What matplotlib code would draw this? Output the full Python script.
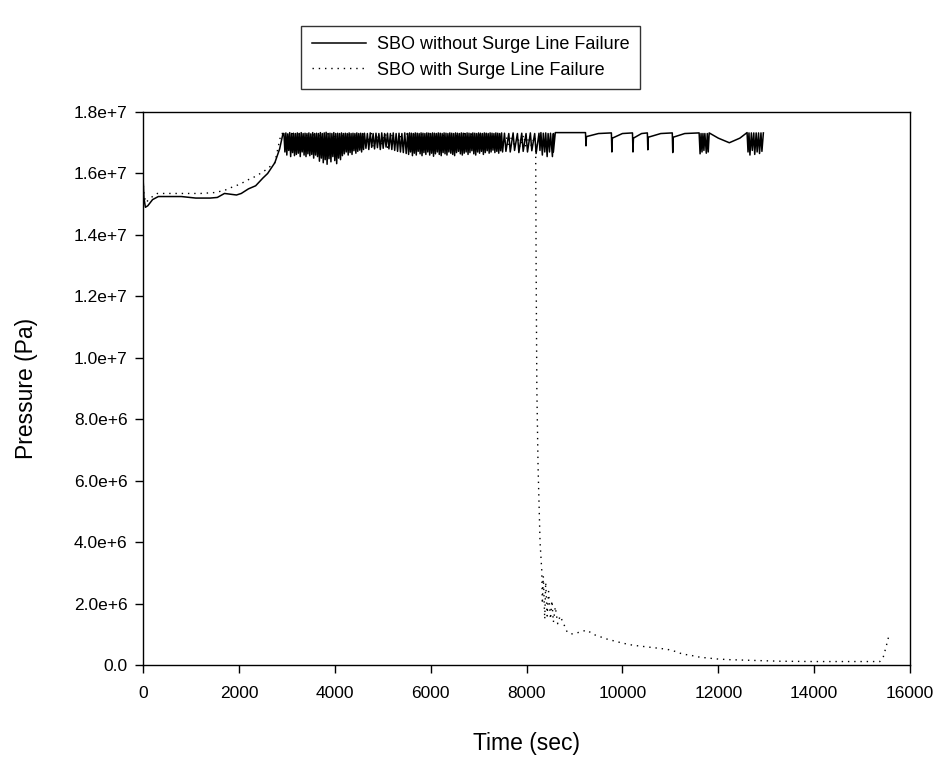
import matplotlib
matplotlib.use('Agg')
import matplotlib.pyplot as plt

plt.rcParams['font.family'] = ['Liberation Sans', 'DejaVu Sans']

## SBO without surge line failure: time (s), pressure (MPa)
## heat-up part
t_no_fail_start = [0, 20, 50, 100, 200, 320, 500, 800, 1100, 1400, 1550, 1700, 1800, 1950,
                   2050, 2200, 2350, 2500, 2600, 2750, 2850, 2920]
p_no_fail_start = [15.9, 15.2, 14.9, 14.95, 15.15, 15.25, 15.25, 15.25, 15.2, 15.2, 15.22, 15.35,
                   15.33, 15.3, 15.35, 15.5, 15.6, 15.85, 16.0, 16.35, 16.8, 17.3]

## dense relief valve cycling
t_no_fail_osc = [2940, 2960, 2980, 3000, 3020, 3040, 3060, 3080, 3100, 3120, 3140, 3160,
                 3180, 3200, 3220, 3240, 3260, 3280, 3300, 3320, 3340, 3360, 3380, 3400,
                 3420, 3440, 3460, 3480, 3500, 3520, 3540, 3560, 3580, 3600, 3620, 3640,
                 3660, 3680, 3700, 3720, 3740, 3760, 3780, 3800, 3820, 3840, 3860, 3880,
                 3900, 3920, 3940, 3960, 3980, 4000, 4020, 4040, 4060, 4080, 4100, 4120,
                 4140, 4160, 4180, 4200, 4220, 4240, 4260, 4280, 4300, 4320, 4340, 4360,
                 4380, 4400, 4420, 4440, 4460, 4480, 4500, 4520, 4540, 4560, 4580, 4600,
                 4620, 4650, 4680, 4710, 4740, 4770, 4800, 4830, 4860, 4890, 4920, 4950,
                 4980, 5010, 5040, 5070, 5100, 5130, 5160, 5190, 5220, 5250, 5280, 5310,
                 5340, 5370, 5400, 5430, 5460, 5490,
                 5520, 5540, 5560, 5580, 5600, 5620, 5640, 5660, 5680, 5700, 5720, 5740,
                 5760, 5780, 5800, 5820, 5840, 5860, 5880, 5900, 5920, 5940, 5960, 5980,
                 6000, 6020, 6040, 6060, 6080, 6100, 6120, 6140, 6160, 6180, 6200, 6220,
                 6240, 6260, 6280, 6300, 6320, 6340, 6360, 6380, 6400, 6420, 6440, 6460,
                 6480, 6500, 6520, 6540, 6560, 6580, 6600, 6620, 6640, 6660, 6680, 6700,
                 6720, 6740, 6760, 6780, 6800, 6820, 6840, 6860, 6880, 6900, 6920, 6940,
                 6960, 6980, 7000, 7020, 7040, 7060, 7080, 7100, 7120, 7140, 7160, 7180,
                 7200, 7220, 7240, 7260, 7280, 7300, 7320, 7340, 7360, 7380, 7400, 7420,
                 7440, 7460, 7480, 7500,
                 7540, 7570, 7630, 7660, 7720, 7750, 7810, 7840, 7900, 7930, 7990, 8020,
                 8080, 8110, 8170, 8200, 8260, 8280, 8300, 8330, 8350, 8380, 8400, 8430,
                 8450, 8480, 8500, 8540, 8560]
p_no_fail_osc = [17.30, 16.70, 17.32, 16.60, 17.29, 16.75, 17.33, 16.55, 17.30, 16.68, 17.31, 16.58,
                 17.30, 16.62, 17.32, 16.66, 17.30, 16.55, 17.33, 16.70, 17.30, 16.60, 17.31, 16.55,
                 17.30, 16.64, 17.32, 16.58, 17.29, 16.62, 17.33, 16.50, 17.30, 16.60, 17.31, 16.55,
                 17.30, 16.40, 17.33, 16.50, 17.30, 16.35, 17.32, 16.45, 17.34, 16.30, 17.30, 16.48,
                 17.31, 16.38, 17.30, 16.55, 17.33, 16.42, 17.30, 16.32, 17.31, 16.50, 17.30, 16.45,
                 17.32, 16.58, 17.30, 16.64, 17.31, 16.70, 17.30, 16.60, 17.32, 16.68, 17.30, 16.62,
                 17.31, 16.74, 17.30, 16.66, 17.32, 16.72, 17.30, 16.76, 17.31, 16.70, 17.30, 16.78,
                 17.31, 16.82, 17.30, 16.78, 17.32, 16.85, 17.30, 16.80, 17.31, 16.84, 17.30, 16.78,
                 17.32, 16.82, 17.30, 16.86, 17.31, 16.80, 17.30, 16.78, 17.32, 16.75, 17.30, 16.72,
                 17.31, 16.70, 17.30, 16.68, 17.32, 16.65,
                 17.30, 16.62, 17.32, 16.70, 17.31, 16.58, 17.30, 16.66, 17.32, 16.60, 17.31, 16.72,
                 17.30, 16.64, 17.32, 16.58, 17.31, 16.68, 17.30, 16.62, 17.32, 16.70, 17.31, 16.60,
                 17.30, 16.66, 17.32, 16.56, 17.31, 16.64, 17.30, 16.70, 17.32, 16.62, 17.31, 16.58,
                 17.30, 16.68, 17.32, 16.64, 17.31, 16.60, 17.30, 16.70, 17.32, 16.66, 17.31, 16.62,
                 17.30, 16.58, 17.32, 16.68, 17.31, 16.72, 17.30, 16.64, 17.32, 16.60, 17.31, 16.66,
                 17.30, 16.70, 17.32, 16.62, 17.31, 16.68, 17.30, 16.74, 17.32, 16.64, 17.31, 16.60,
                 17.30, 16.70, 17.32, 16.66, 17.31, 16.72, 17.30, 16.62, 17.32, 16.68, 17.31, 16.74,
                 17.30, 16.66, 17.32, 16.70, 17.31, 16.76, 17.30, 16.68, 17.32, 16.72, 17.31, 16.66,
                 17.30, 16.74, 17.32, 16.70,
                 17.31, 16.72, 17.30, 16.70, 17.32, 16.75, 17.30, 16.68, 17.31, 16.72, 17.30, 16.70,
                 17.32, 16.74, 17.30, 16.65, 17.31, 16.75, 17.33, 16.60, 17.31, 16.70, 17.32, 16.55,
                 17.30, 16.70, 17.31, 16.55, 17.30]

## sparse cycling later on
t_no_fail_end = [8560, 8600, 8900, 9230, 9240, 9250, 9500, 9770, 9780, 9790, 10000, 10210,
                 10220, 10230, 10400, 10520, 10530, 10540, 10800, 11040, 11050, 11060, 11300,
                 11600, 11620, 11640, 11660, 11680, 11700, 11720, 11750, 11770, 11790, 11810,
                 12000, 12230, 12450, 12600, 12620, 12640, 12660, 12690, 12710, 12740,
                 12760, 12790, 12810, 12840, 12860, 12890, 12910, 12940]
p_no_fail_end = [16.70, 17.33, 17.33, 17.33, 16.90, 17.20, 17.30, 17.32, 16.70, 17.15, 17.30, 17.32,
                 16.70, 17.15, 17.30, 17.32, 16.77, 17.18, 17.30, 17.32, 16.68, 17.18, 17.30,
                 17.32, 16.64, 17.30, 16.70, 17.30, 16.75, 17.30, 16.66, 17.30, 16.70, 17.32,
                 17.15, 17.00, 17.15, 17.33, 16.70, 17.32, 16.60, 17.32, 16.75, 17.32,
                 16.62, 17.32, 16.70, 17.32, 16.65, 17.32, 16.72, 17.32]

## SBO with surge line failure: time (s), pressure (MPa)
t_fail = [0, 20, 60, 150, 300, 600, 900, 1200, 1500, 1700, 1850, 2020, 2200, 2340,
          2500, 2590, 2750, 2880,
          2960, 3000, 3110, 3150, 3260, 3300, 3410, 3450, 3560, 3600, 3710, 3750,
          3860, 3900, 4010, 4050, 4160, 4200, 4310, 4350, 4460, 4500, 4610, 4650,
          4760, 4800, 4910, 4950, 5060, 5100, 5210, 5250, 5360, 5400, 5510, 5550,
          5660, 5700, 5810, 5850, 5960, 6000, 6110, 6150, 6260, 6300, 6410, 6450,
          6560, 6600, 6710, 6750, 6860, 6900, 7010, 7050, 7160, 7200, 7310, 7350,
          7460, 7500, 7580, 7620, 7700, 7740, 7820, 7860, 7940, 7980, 8060, 8100,
          8170, 8190, 8200, 8215, 8240, 8265, 8282, 8317, 8330, 8350, 8380, 8400,
          8430, 8460, 8500, 8530, 8560, 8600, 8650, 8700, 8760, 8850, 8950, 9050,
          9150, 9260, 9400, 9680, 10000, 10220, 10600, 10930, 11100, 11260, 11400,
          11620, 12000, 12250, 13290, 14000, 15370, 15440, 15500, 15550]
p_fail = [15.8, 15.3, 15.05, 15.2, 15.35, 15.35, 15.35, 15.35, 15.38, 15.45, 15.55, 15.65, 15.8, 15.9,
          16.05, 16.15, 16.35, 17.3,
          17.30, 16.85, 17.30, 16.80, 17.30, 16.85, 17.30, 16.80, 17.30, 16.85, 17.30, 16.75,
          17.30, 16.85, 17.30, 16.80, 17.30, 16.85, 17.30, 16.80, 17.30, 16.85, 17.30, 16.90,
          17.30, 16.85, 17.30, 16.90, 17.30, 16.85, 17.30, 16.90, 17.30, 16.85, 17.30, 16.90,
          17.30, 16.85, 17.30, 16.90, 17.30, 16.85, 17.30, 16.90, 17.30, 16.85, 17.30, 16.90,
          17.30, 16.85, 17.30, 16.90, 17.30, 16.85, 17.30, 16.90, 17.30, 16.85, 17.30, 16.90,
          17.25, 16.90, 17.20, 16.85, 17.25, 16.95, 17.20, 16.85, 17.25, 16.90, 17.20, 16.90,
          17.20, 17.0, 13.0, 9.0, 6.5, 5.0, 4.0, 3.1, 2.0, 2.9, 1.5, 2.7,
          1.6, 2.4, 1.5, 2.1, 1.4, 1.9, 1.35, 1.6, 1.4, 1.07, 1.02, 1.05,
          1.1, 1.14, 1.0, 0.85, 0.72, 0.65, 0.58, 0.52, 0.45, 0.36, 0.33,
          0.26, 0.2, 0.18, 0.13, 0.12, 0.12, 0.26, 0.6, 0.91]

x_ticks = [0, 2000, 4000, 6000, 8000, 10000, 12000, 14000, 16000]
y_ticks = [0.0, 2.0, 4.0, 6.0, 8.0, 10.0, 12.0, 14.0, 16.0, 18.0]
y_tick_labels = ['0.0', '2.0e+6', '4.0e+6', '6.0e+6', '8.0e+6', '1.0e+7',
                 '1.2e+7', '1.4e+7', '1.6e+7', '1.8e+7']

t_no_fail = t_no_fail_start + t_no_fail_osc + t_no_fail_end
p_no_fail = p_no_fail_start + p_no_fail_osc + p_no_fail_end

## Строим график
fig = plt.figure(figsize=(9.47, 7.62), dpi=100)
ax = fig.add_axes([0.151, 0.127, 0.810, 0.726])

ax.plot(t_no_fail, [p * 1e6 for p in p_no_fail], color='black', lw=1.1,
        label='SBO without Surge Line Failure')
ax.plot(t_fail, [p * 1e6 for p in p_fail], color='black', lw=1.0,
        linestyle=(0, (1, 3.5)), label='SBO with Surge Line Failure')

ax.set_xlim(0, 16000)
ax.set_ylim(0, 1.8e7)
ax.set_xticks(x_ticks)
ax.set_yticks([v * 1e6 for v in y_ticks])
ax.set_yticklabels(y_tick_labels)
ax.tick_params(direction='out', length=6, width=1, labelsize=12.5)
ax.tick_params(axis='x', pad=9)
ax.tick_params(axis='y', pad=5)
for s in ax.spines.values():
    s.set_linewidth(1.0)

ax.set_xlabel('Time (sec)', fontsize=16.5, labelpad=22)
ax.set_ylabel('Pressure (Pa)', fontsize=16.5, labelpad=26)

leg = fig.legend(loc='center', bbox_to_anchor=(0.497, 0.9245), fontsize=13,
                 frameon=True, fancybox=False, edgecolor='black',
                 handlelength=3.0, handletextpad=0.6, labelspacing=0.45,
                 borderpad=0.6)
leg.get_frame().set_linewidth(1.0)

fig.savefig('out.png', dpi=100)
